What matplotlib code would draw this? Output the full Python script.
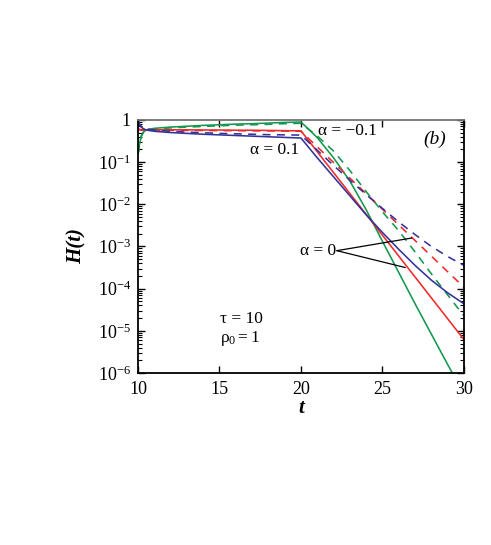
import numpy as np
import matplotlib
matplotlib.use("Agg")
import matplotlib.pyplot as plt
from matplotlib.ticker import FixedLocator, FuncFormatter, LogLocator, NullFormatter

plt.rcParams.update({
    "font.family": "serif",
    "font.serif": ["Liberation Serif"],
    "mathtext.fontset": "custom",
    "mathtext.rm": "Liberation Serif",
    "mathtext.it": "Liberation Serif:italic",
    "mathtext.bf": "Liberation Serif:bold",
    "font.size": 10,
})

# time grid (same for every curve)
t = [10.0, 10.05, 10.1, 10.2, 10.3, 10.5, 11, 12, 13, 14, 15, 16, 17, 18, 19, 20,
     21, 22, 23, 24, 25, 26, 27, 28, 29, 30]

# log10 H(t)
# alpha = -0.1 (green)
lg_green_solid = [-0.8, -0.72, -0.56, -0.38, -0.3, -0.24, -0.2, -0.17, -0.15, -0.13,
                  -0.115, -0.10, -0.09, -0.075, -0.06, -0.05,
                  -0.42, -0.9, -1.45, -2.13, -2.88, -3.62, -4.36, -5.08, -5.8, -6.5]
lg_green_dash = [-0.8, -0.74, -0.58, -0.4, -0.32, -0.26, -0.22, -0.19, -0.17, -0.155,
                 -0.14, -0.125, -0.115, -0.105, -0.09, -0.08,
                 -0.38, -0.74, -1.2, -1.7, -2.18, -2.63, -3.13, -3.65, -4.15, -4.65]
# alpha = 0 (red)
lg_red_solid = [-0.2, -0.22, -0.23, -0.235, -0.235, -0.235, -0.235, -0.235, -0.235, -0.24,
                -0.24, -0.245, -0.245, -0.25, -0.255, -0.26,
                -0.755, -1.25, -1.745, -2.24, -2.735, -3.23, -3.725, -4.22, -4.715, -5.21]
lg_red_dash = [-0.2, -0.22, -0.235, -0.24, -0.245, -0.245, -0.245, -0.245, -0.25, -0.25,
               -0.255, -0.255, -0.26, -0.26, -0.265, -0.27,
               -0.64, -1.01, -1.38, -1.75, -2.12, -2.49, -2.86, -3.23, -3.6, -3.97]
# alpha = 0.1 (blue)
lg_blue_solid = [0.0, -0.07, -0.12, -0.17, -0.2, -0.24, -0.27, -0.3, -0.32, -0.34,
                 -0.355, -0.37, -0.385, -0.4, -0.415, -0.43,
                 -0.9, -1.35, -1.8, -2.25, -2.67, -3.07, -3.45, -3.8, -4.1, -4.36]
lg_blue_dash = [0.0, -0.06, -0.1, -0.15, -0.18, -0.21, -0.24, -0.27, -0.29, -0.305,
                -0.32, -0.33, -0.34, -0.35, -0.355, -0.36,
                -0.72, -1.08, -1.43, -1.77, -2.1, -2.42, -2.72, -3.0, -3.24, -3.45]

GREEN = "#13984f"
RED = "#ee2a2a"
BLUE = "#33339a"

curves = [
    (lg_green_solid, GREEN, "-"),
    (lg_green_dash, GREEN, "--"),
    (lg_red_solid, RED, "-"),
    (lg_red_dash, RED, "--"),
    (lg_blue_solid, BLUE, "-"),
    (lg_blue_dash, BLUE, "--"),
]

fig = plt.figure(figsize=(4.91, 5.45), dpi=100)
ax = fig.add_axes([0.281, 0.3156, 0.664, 0.4644])

t = np.array(t)
for lg, c, ls in curves:
    line, = ax.plot(t, 10**np.array(lg), color=c, lw=1.15, ls=ls)
    if ls == "--":
        line.set_dashes((5, 4))

ax.set_yscale("log")
ax.set_xlim(10, 30)
ax.set_ylim(1e-6, 1)

ax.xaxis.set_major_locator(FixedLocator([10, 15, 20, 25, 30]))
ax.yaxis.set_major_locator(FixedLocator([1e-6, 1e-5, 1e-4, 1e-3, 1e-2, 1e-1, 1]))
ax.yaxis.set_minor_locator(LogLocator(base=10, subs=np.arange(2, 10), numticks=20))
ax.yaxis.set_minor_formatter(NullFormatter())


def ylab(v, pos):
    e = int(round(np.log10(v)))
    if e == 0:
        return "1"
    return r"$10^{%d}$" % e


ax.yaxis.set_major_formatter(FuncFormatter(ylab))
ax.tick_params(which="both", direction="in", top=True, right=True, labelsize=13)
ax.tick_params(which="major", length=5, width=1.0)
ax.tick_params(which="minor", length=3, width=0.8)
ax.tick_params(axis="x", pad=6)
ax.tick_params(axis="y", pad=5)

for s in ax.spines.values():
    s.set_linewidth(1.3)
ax.spines["top"].set_color("0.45")

ax.set_xlabel("t", fontsize=15, fontweight="bold", fontstyle="italic", labelpad=0)
ax.set_ylabel("H(t)", fontsize=15, fontweight="bold", fontstyle="italic", labelpad=8)

ax.text(21.05, 10**-0.26, "α = −0.1", fontsize=12.5, va="center", ha="left")
ax.text(16.9, 10**-0.71, "α = 0.1", fontsize=12.5, va="center", ha="left")
ax.text(27.5, 10**-0.45, "(b)", fontsize=14, style="italic", va="center", ha="left")
ax.text(15.05, 10**-4.72, "τ = 10", fontsize=12.5, va="center", ha="left")
ax.text(15.05, 10**-5.19, r"$\mathregular{ρ_0 = 1}$", fontsize=12.5, va="center", ha="left")

ax.text(22.15, 10**-3.1, "α = 0", fontsize=12.5, va="center", ha="right")
ax.annotate("", xy=(26.8, 10**-2.8), xytext=(22.2, 10**-3.1),
            arrowprops=dict(arrowstyle="-", color="k", lw=0.9, shrinkA=0, shrinkB=0))
ax.annotate("", xy=(26.4, 10**-3.5), xytext=(22.2, 10**-3.1),
            arrowprops=dict(arrowstyle="-", color="k", lw=0.9, shrinkA=0, shrinkB=0))

fig.savefig("out.png", dpi=100)
